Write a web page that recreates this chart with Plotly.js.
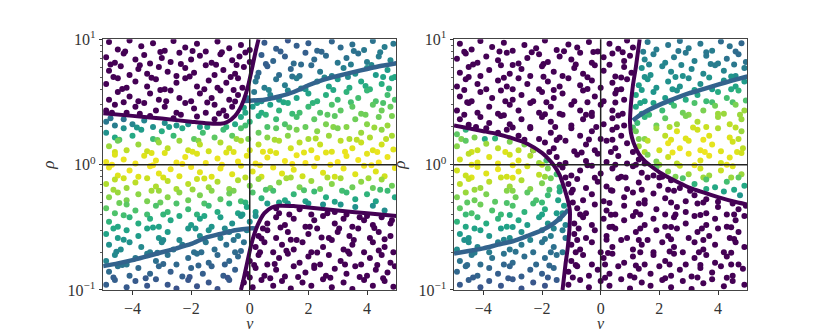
<!DOCTYPE html>
<html><head><meta charset="utf-8">
<script src="https://cdn.plot.ly/plotly-3.0.1.min.js"></script>
<style>html,body{margin:0;padding:0;background:#fff}#chart{width:830px;height:332px}</style>
</head><body><div id="chart"></div>
<script>
// ---- tick labels ----
const xTickVals = [-4, -2, 0, 2, 4];
const xTickText = ['\u22124', '\u22122', '0', '2', '4'];
const yTickVals = [0.1, 1, 10];
const yTickText = ['10<sup>\u22121</sup>', '10<sup>0</sup>', '10<sup>1</sup>'];
const yMinorVals = [0.2,0.3,0.4,0.5,0.6,0.7,0.8,0.9,2,3,4,5,6,7,8,9];

// ---- panel 1 curves ----
const p1PurpleUpperX = [-5, -4, -3, -2, -1.5, -1, -0.75, -0.5, -0.35, -0.2, -0.05, 0.1, 0.2, 0.3];
const p1PurpleUpperY = [2.57, 2.45, 2.33, 2.2, 2.14, 2.12, 2.2, 2.45, 2.75, 3.3, 4.3, 6.2, 8.0, 10];
const p1PurpleLowerX = [5, 4, 3, 2, 1.5, 1, 0.75, 0.5, 0.35, 0.2, 0.05, -0.1, -0.2, -0.3];
const p1PurpleLowerY = [0.39, 0.41, 0.43, 0.455, 0.467, 0.47, 0.455, 0.41, 0.36, 0.3, 0.23, 0.16, 0.125, 0.1];
const p1BlueUpperX = [-0.2, 0, 0.5, 1, 1.5, 2, 2.5, 3, 3.5, 4, 4.5, 5];
const p1BlueUpperY = [3.22, 3.24, 3.3, 3.5, 3.8, 4.3, 4.75, 5.1, 5.45, 5.8, 6.15, 6.45];
const p1BlueLowerX = [-5, -4.5, -4, -3.5, -3, -2.5, -2, -1.5, -1, -0.5, 0, 0.2];
const p1BlueLowerY = [0.155, 0.163, 0.173, 0.186, 0.2, 0.215, 0.233, 0.262, 0.28, 0.3, 0.31, 0.31];

// ---- panel 2 curves ----
const p2PurpleUpperX = [1.33, 1.2, 1.1, 1.03, 1.0, 1.03, 1.12, 1.3, 1.5, 1.7, 2.0, 2.5, 3.0, 3.5, 4.0, 4.5, 5.0];
const p2PurpleUpperY = [10, 6.0, 4.3, 3.0, 2.2, 1.8, 1.5, 1.22, 1.07, 0.98, 0.87, 0.75, 0.66, 0.6, 0.55, 0.51, 0.48];
const p2PurpleLowerX = [-5, -4.5, -4, -3.5, -3, -2.5, -2, -1.8, -1.6, -1.4, -1.25, -1.12, -1.05, -1.06, -1.12, -1.2, -1.3];
const p2PurpleLowerY = [2.05, 1.95, 1.85, 1.75, 1.62, 1.47, 1.24, 1.12, 0.99, 0.83, 0.66, 0.52, 0.43, 0.32, 0.22, 0.16, 0.1];
const p2BlueUpperX = [1.1, 1.3, 1.6, 2.0, 2.5, 3.0, 3.5, 4.0, 4.5, 5.0];
const p2BlueUpperY = [2.25, 2.45, 2.7, 3.0, 3.35, 3.7, 4.0, 4.35, 4.7, 5.05];
const p2BlueLowerX = [-5, -4.5, -4, -3.5, -3, -2.5, -2, -1.6, -1.3, -1.1];
const p2BlueLowerY = [0.195, 0.205, 0.215, 0.23, 0.245, 0.27, 0.3, 0.34, 0.39, 0.44];

// ---- panel 1 points: value 0 (purple) ----
const p1PurplePts = [
[-4.8,9.5],[-4.5,8.3],[-4.1,9.8],[-3.7,8.8],[-3.3,9.3],[-2.9,8.1],[-2.6,9.7],[-2.2,8.6],[-1.8,9.2],[-1.5,8.0],[-1.1,9.6],[-0.7,8.5],[-0.3,9.0],[0.0,8.2],
[-4.9,7.2],[-4.6,6.5],[-4.3,7.7],[-3.9,6.9],[-3.6,7.5],[-3.4,6.4],[-3.0,7.1],[-2.7,6.6],[-2.4,7.8],[-2.0,6.9],[-1.7,7.4],[-1.3,6.5],[-1.0,7.6],[-0.6,6.8],[-0.35,7.3],[0.0,6.6],
[-4.8,5.6],[-4.4,6.1],[-4.1,5.2],[-3.8,5.8],[-3.5,5.3],[-3.1,6.0],[-2.8,5.5],[-2.5,5.1],[-2.2,5.9],[-1.9,5.4],[-1.5,6.2],[-1.2,5.2],[-0.9,5.7],[-0.5,5.3],[-0.2,6.0],
[-4.9,4.4],[-4.5,4.9],[-4.2,4.1],[-3.9,4.6],[-3.5,4.2],[-3.2,4.8],[-2.9,4.0],[-2.5,4.5],[-2.2,4.9],[-1.8,4.2],[-1.4,4.7],[-1.1,4.1],[-0.8,4.5],[-0.4,4.9],[-0.25,4.1],
[-4.8,3.3],[-4.5,3.8],[-4.1,3.5],[-3.8,3.2],[-3.4,3.7],[-3.1,3.3],[-2.7,3.9],[-2.4,3.4],[-2.0,3.2],[-1.7,3.7],[-1.3,3.4],[-1.0,3.9],[-0.7,3.3],[-0.4,3.6],
[-4.9,2.7],[-4.6,3.0],[-4.2,2.6],[-3.9,2.9],[-3.6,3.1],[-3.2,2.7],[-2.9,2.9],[-2.5,2.6],[-2.2,3.1],[-1.9,2.8],[-1.5,2.6],[-1.2,3.0],[-0.9,2.7],[-0.6,2.9],
[-4.7,2.6],[-3.4,2.45],[-2.6,2.35],[-1.8,2.42],[-1.2,2.3],[-0.8,2.45],
[-4.25,8.0],[-3.05,7.92],[-1.95,8.07],[-0.95,7.88],[-0.15,7.85],
[-4.75,6.3],[-3.75,6.22],[-2.35,6.36],[-1.15,6.28],[-0.45,6.24],
[-4.65,5.0],[-3.35,4.93],[-2.05,5.06],[-0.65,5.0],
[-4.35,4.02],[-3.05,3.95],[-1.55,4.0],[-0.55,3.94],
[-4.3,3.15],[-2.85,3.21],[-1.45,3.13],[-0.5,3.19],
[-3.75,2.55],[-2.35,2.5],[-1.05,2.56],
[0.9,0.45],[1.0,0.41],[1.7,0.44],[2.1,0.4],[2.9,0.42],[3.3,0.4],[4.0,0.39],
[1.35,0.4],[2.65,0.41],[3.75,0.38],[4.85,0.36],
[0.6,0.34],[0.9,0.38],[1.2,0.33],[1.5,0.37],[1.9,0.32],[2.2,0.36],[2.5,0.39],[2.9,0.34],[3.2,0.37],[3.5,0.32],[3.9,0.36],[4.2,0.33],[4.5,0.38],[4.8,0.34],
[0.45,0.31],[1.05,0.315],[2.05,0.32],[3.05,0.31],[4.25,0.312],
[0.3,0.27],[0.6,0.3],[0.9,0.26],[1.3,0.29],[1.6,0.25],[2.0,0.28],[2.3,0.31],[2.7,0.26],[3.0,0.29],[3.4,0.27],[3.7,0.31],[4.1,0.26],[4.4,0.29],[4.8,0.27],
[0.4,0.258],[1.4,0.252],[2.45,0.262],[3.55,0.25],[4.6,0.254],
[0.2,0.22],[0.5,0.24],[0.8,0.2],[1.1,0.23],[1.5,0.21],[1.8,0.24],[2.1,0.2],[2.5,0.22],[2.8,0.25],[3.2,0.21],[3.5,0.23],[3.9,0.2],[4.2,0.24],[4.6,0.22],[4.9,0.2],
[0.35,0.2],[1.25,0.206],[2.3,0.199],[3.35,0.203],[4.4,0.207],
[0.0,0.17],[0.3,0.19],[0.6,0.16],[1.0,0.18],[1.3,0.195],[1.7,0.165],[2.0,0.185],[2.4,0.16],[2.7,0.19],[3.1,0.17],[3.4,0.195],[3.8,0.16],[4.1,0.18],[4.5,0.19],[4.8,0.165],
[0.15,0.158],[0.85,0.161],[2.2,0.157],[3.25,0.16],[4.35,0.158],
[-0.1,0.135],[0.2,0.15],[0.5,0.13],[0.9,0.145],[1.2,0.128],[1.5,0.155],[1.9,0.138],[2.2,0.15],[2.6,0.13],[2.9,0.148],[3.3,0.135],[3.6,0.155],[4.0,0.13],[4.3,0.145],[4.7,0.138],[4.95,0.155],
[0.0,0.126],[0.7,0.124],[1.65,0.127],[2.75,0.125],[3.75,0.127],[4.55,0.124],
[-0.2,0.115],[0.1,0.105],[0.4,0.12],[0.8,0.108],[1.1,0.118],[1.4,0.103],[1.8,0.115],[2.1,0.108],[2.5,0.122],[2.8,0.105],[3.2,0.115],[3.5,0.102],[3.9,0.12],[4.2,0.108],[4.6,0.118],[4.9,0.106]
];

// ---- panel 1 points with colour value [x, y, value] ----
const p1ColoredPts = [
[0.5,9.4,0.28],[0.9,8.4,0.3],[1.3,9.8,0.27],[1.6,8.9,0.3],[2.0,9.3,0.3],[2.3,8.1,0.33],[2.8,9.6,0.32],[3.1,8.6,0.35],[3.5,9.1,0.37],[3.9,8.2,0.4],[4.2,9.7,0.38],[4.6,8.7,0.42],[4.9,9.2,0.4],
[1.05,8.0,0.3],[2.45,7.95,0.33],[3.55,8.05,0.38],[4.45,7.9,0.42],
[0.4,7.5,0.3],[0.8,6.7,0.32],[1.2,7.3,0.3],[1.5,6.4,0.35],[1.9,7.8,0.3],[2.2,6.9,0.35],[2.6,7.4,0.35],[3.0,6.5,0.4],[3.3,7.1,0.38],[3.7,7.7,0.37],[4.0,6.6,0.42],[4.4,7.3,0.42],[4.8,6.8,0.47],
[0.55,6.35,0.3],[1.75,6.3,0.35],[3.45,6.3,0.42],[4.15,6.25,0.47],
[0.3,5.4,0.33],[0.6,6.1,0.3],[1.0,5.2,0.35],[1.4,5.8,0.33],[1.7,5.1,0.38],[2.1,6.2,0.35],[2.4,5.5,0.4],[2.8,5.1,0.43],[3.2,5.9,0.43],[3.6,5.3,0.5],[4.0,5.9,0.5],[4.3,5.2,0.55],[4.7,5.7,0.55],[4.95,5.0,0.6],
[0.25,5.0,0.35],[1.45,5.05,0.38],[2.55,4.95,0.45],[3.35,5.0,0.47],[4.55,5.0,0.58],
[0.2,4.6,0.4],[0.5,4.1,0.42],[0.9,4.8,0.38],[1.2,4.3,0.42],[1.6,4.9,0.42],[1.9,4.0,0.52],[2.3,4.6,0.5],[2.7,4.2,0.58],[3.0,4.8,0.55],[3.4,4.1,0.62],[3.8,4.6,0.6],[4.1,4.0,0.65],[4.5,4.4,0.63],[4.85,4.9,0.6],
[0.65,3.95,0.45],[1.75,4.05,0.5],[2.85,3.95,0.6],[3.95,4.25,0.62],[4.75,4.05,0.65],
[-0.1,3.4,0.42],[0.15,3.8,0.4],[0.4,3.2,0.5],[0.7,3.6,0.45],[1.0,3.3,0.52],[1.3,3.9,0.45],[1.6,3.4,0.58],[2.0,3.7,0.58],[2.3,3.2,0.65],[2.6,3.6,0.63],[3.0,3.3,0.68],[3.3,3.8,0.65],[3.7,3.4,0.7],[4.0,3.9,0.67],[4.3,3.2,0.72],[4.7,3.6,0.7],[4.95,3.3,0.72],
[0.25,3.1,0.55],[1.15,3.15,0.6],[2.15,3.1,0.65],[3.45,3.15,0.7],[4.55,3.1,0.72],
[-0.15,2.6,0.6],[0.1,2.9,0.55],[0.4,2.6,0.62],[0.7,3.0,0.58],[1.0,2.7,0.65],[1.3,3.1,0.62],[1.7,2.6,0.7],[2.0,2.9,0.68],[2.4,2.6,0.73],[2.8,3.0,0.72],[3.1,2.7,0.75],[3.5,2.9,0.75],[3.8,2.55,0.78],[4.2,3.0,0.75],[4.5,2.7,0.78],[4.8,2.9,0.77],
[-0.2,2.85,0.58],[0.55,2.5,0.65],[1.45,2.55,0.68],[2.65,2.5,0.75],[3.95,2.5,0.78],[4.85,2.45,0.8],
[-4.9,2.2,0.4],[-4.6,2.05,0.42],[-4.3,2.3,0.38],[-4.0,2.1,0.45],[-3.6,2.25,0.45],[-3.3,2.0,0.5],[-2.9,2.15,0.48],[-2.5,2.05,0.52],[-2.1,2.1,0.5],[-1.7,2.0,0.55],[-0.5,2.1,0.6],[-0.3,2.4,0.6],[0.0,2.2,0.65],[0.3,2.45,0.62],[0.6,2.0,0.72],[0.9,2.3,0.68],[1.2,2.1,0.72],[1.6,2.4,0.7],[1.9,2.0,0.77],[2.2,2.3,0.75],[2.6,2.1,0.8],[2.9,2.45,0.75],[3.3,2.0,0.82],[3.6,2.3,0.78],[4.0,2.1,0.82],[4.4,2.4,0.78],[4.7,2.05,0.85],
[-4.75,2.35,0.38],[-3.85,1.98,0.52],[-2.75,2.0,0.55],[-1.45,2.0,0.6],[-0.8,2.0,0.65],[-0.15,2.05,0.7],[1.35,1.98,0.77],[2.85,2.0,0.82],[4.25,1.98,0.85],
[-4.9,1.8,0.5],[-4.6,1.65,0.6],[-4.3,1.95,0.5],[-4.0,1.7,0.6],[-3.7,1.9,0.55],[-3.3,1.6,0.68],[-3.0,1.85,0.62],[-2.6,1.7,0.68],[-2.3,1.95,0.6],[-1.9,1.6,0.75],[-1.6,1.8,0.7],[-1.2,1.65,0.75],[-0.9,1.9,0.68],[-0.6,1.7,0.75],[-0.3,1.95,0.72],[-0.05,1.6,0.8],[0.3,1.8,0.77],[0.6,1.65,0.82],[0.9,1.95,0.75],[1.3,1.7,0.82],[1.6,1.9,0.8],[2.0,1.6,0.87],[2.3,1.85,0.82],[2.7,1.7,0.85],[3.0,1.95,0.8],[3.4,1.6,0.88],[3.8,1.8,0.85],[4.1,1.65,0.88],[4.5,1.9,0.83],[4.85,1.7,0.87],
[-4.45,1.58,0.72],[-3.15,1.57,0.78],[-1.75,1.55,0.82],[-0.45,1.6,0.85],[0.85,1.58,0.87],[2.25,1.62,0.88],[3.65,1.58,0.9],[4.65,1.6,0.9],
[-4.8,1.4,0.85],[-4.5,1.55,0.78],[-4.2,1.3,0.9],[-3.8,1.45,0.85],[-3.5,1.28,0.92],[-3.1,1.5,0.85],[-2.8,1.35,0.9],[-2.4,1.55,0.85],[-2.1,1.3,0.92],[-1.7,1.45,0.9],[-1.4,1.28,0.93],[-1.0,1.5,0.88],[-0.7,1.35,0.92],[-0.3,1.55,0.88],[0.0,1.3,0.93],[0.3,1.45,0.9],[0.7,1.28,0.95],[1.0,1.55,0.88],[1.4,1.35,0.93],[1.7,1.5,0.9],[2.1,1.3,0.95],[2.4,1.45,0.92],[2.8,1.27,0.95],[3.1,1.55,0.9],[3.5,1.35,0.95],[3.8,1.5,0.92],[4.2,1.3,0.95],[4.5,1.45,0.93],[4.9,1.32,0.95],
[-4.6,1.26,0.93],[-3.35,1.24,0.95],[-1.95,1.27,0.95],[-0.55,1.26,0.95],[0.45,1.27,0.96],[1.85,1.25,0.96],[3.25,1.27,0.97],[4.35,1.26,0.97],
[-4.9,1.05,0.97],[-4.6,1.2,0.95],[-4.3,1.1,0.97],[-3.9,1.02,0.98],[-3.6,1.18,0.95],[-3.2,1.08,0.97],[-2.9,1.24,0.95],[-2.5,1.04,0.98],[-2.2,1.15,0.97],[-1.8,1.22,0.95],[-1.5,1.03,0.98],[-1.1,1.12,0.97],[-0.8,1.25,0.95],[-0.4,1.06,0.98],[-0.1,1.18,0.96],[0.2,1.02,0.98],[0.6,1.14,0.97],[0.9,1.24,0.95],[1.2,1.07,0.98],[1.6,1.19,0.97],[1.9,1.03,0.99],[2.3,1.13,0.98],[2.6,1.25,0.96],[3.0,1.05,0.99],[3.3,1.17,0.97],[3.7,1.09,0.98],[4.0,1.22,0.96],[4.4,1.04,0.99],[4.7,1.15,0.97],
[-4.7,1.0,0.99],[-3.3,0.99,0.99],[-2.3,1.01,0.99],[-0.95,1.0,0.99],[0.35,0.99,0.98],[1.45,1.01,0.99],[2.75,1.0,0.99],[4.15,0.99,0.99],
[-4.8,0.95,0.97],[-4.5,0.82,0.95],[-4.1,0.9,0.97],[-3.8,0.8,0.95],[-3.4,0.97,0.98],[-3.1,0.85,0.96],[-2.7,0.92,0.97],[-2.4,0.81,0.95],[-2.0,0.96,0.98],[-1.7,0.87,0.96],[-1.3,0.8,0.95],[-1.0,0.93,0.97],[-0.6,0.84,0.95],[-0.3,0.98,0.97],[0.1,0.88,0.95],[0.4,0.8,0.93],[0.8,0.95,0.97],[1.1,0.85,0.95],[1.5,0.91,0.96],[1.8,0.81,0.93],[2.2,0.97,0.98],[2.5,0.86,0.95],[2.9,0.8,0.93],[3.2,0.93,0.97],[3.6,0.84,0.95],[3.9,0.98,0.98],[4.3,0.88,0.95],[4.6,0.81,0.93],[4.95,0.94,0.97],
[-4.3,0.78,0.93],[-2.95,0.79,0.94],[-1.55,0.775,0.93],[-0.15,0.79,0.9],[1.25,0.78,0.87],[2.65,0.79,0.88],[4.05,0.78,0.86],
[-4.9,0.7,0.88],[-4.6,0.76,0.9],[-4.2,0.65,0.85],[-3.9,0.72,0.9],[-3.5,0.78,0.92],[-3.2,0.67,0.88],[-2.8,0.74,0.9],[-2.5,0.64,0.87],[-2.1,0.7,0.9],[-1.8,0.77,0.92],[-1.4,0.66,0.85],[-1.1,0.73,0.88],[-0.7,0.64,0.83],[-0.4,0.75,0.88],[0.0,0.68,0.8],[0.3,0.77,0.85],[0.7,0.65,0.78],[1.0,0.72,0.82],[1.4,0.79,0.87],[1.7,0.66,0.8],[2.1,0.74,0.85],[2.4,0.64,0.78],[2.8,0.7,0.82],[3.1,0.78,0.87],[3.5,0.66,0.78],[3.8,0.73,0.83],[4.2,0.65,0.77],[4.5,0.76,0.85],[4.85,0.68,0.78],
[-4.65,0.63,0.86],[-3.35,0.62,0.86],[-1.95,0.635,0.85],[-0.55,0.62,0.8],[0.55,0.63,0.72],[1.85,0.625,0.72],[3.15,0.62,0.7],[4.45,0.63,0.7],
[-4.8,0.55,0.82],[-4.5,0.6,0.85],[-4.2,0.52,0.8],[-3.8,0.58,0.83],[-3.5,0.51,0.8],[-3.1,0.62,0.85],[-2.8,0.55,0.82],[-2.4,0.6,0.83],[-2.1,0.52,0.78],[-1.7,0.57,0.8],[-1.3,0.62,0.82],[-1.0,0.53,0.75],[-0.7,0.59,0.78],[-0.3,0.51,0.7],[0.1,0.6,0.72],[0.4,0.54,0.65],[0.8,0.62,0.7],[1.2,0.52,0.6],[1.5,0.58,0.66],[1.9,0.51,0.58],[2.2,0.61,0.68],[2.6,0.55,0.62],[2.9,0.505,0.58],[3.3,0.6,0.68],[3.6,0.53,0.6],[4.0,0.58,0.65],[4.3,0.51,0.58],[4.7,0.62,0.68],[4.95,0.55,0.6],
[-4.45,0.495,0.78],[-3.05,0.5,0.77],[-1.55,0.49,0.72],[-0.15,0.5,0.65],[1.0,0.5,0.56],[2.0,0.49,0.53],[3.1,0.48,0.52],[4.2,0.47,0.5],
[-4.9,0.45,0.75],[-4.6,0.41,0.72],[-4.2,0.48,0.75],[-3.9,0.43,0.72],[-3.5,0.4,0.7],[-3.2,0.47,0.72],[-2.8,0.42,0.68],[-2.5,0.49,0.72],[-2.1,0.44,0.68],[-1.8,0.4,0.65],[-1.4,0.47,0.68],[-1.1,0.42,0.62],[-0.7,0.49,0.65],[-0.4,0.41,0.58],[-0.1,0.46,0.6],[0.2,0.42,0.55],[0.6,0.49,0.55],[1.3,0.49,0.52],[2.5,0.48,0.5],[3.6,0.46,0.5],[4.6,0.43,0.48],
[-4.3,0.395,0.7],[-2.95,0.4,0.66],[-1.55,0.39,0.6],[-0.25,0.4,0.55],
[-4.8,0.35,0.65],[-4.5,0.32,0.6],[-4.1,0.38,0.65],[-3.8,0.34,0.62],[-3.4,0.37,0.63],[-3.1,0.32,0.58],[-2.7,0.36,0.6],[-2.4,0.39,0.62],[-2.0,0.33,0.55],[-1.7,0.37,0.58],[-1.3,0.32,0.52],[-1.0,0.38,0.56],[-0.6,0.34,0.5],[-0.3,0.39,0.52],[0.0,0.35,0.48],[0.2,0.39,0.5],
[-4.65,0.31,0.6],[-3.3,0.315,0.57],[-1.85,0.31,0.52],[-0.85,0.31,0.47],
[-4.9,0.28,0.58],[-4.5,0.26,0.55],[-4.2,0.3,0.58],[-3.8,0.27,0.55],[-3.5,0.31,0.58],[-3.1,0.26,0.52],[-2.8,0.29,0.55],[-2.4,0.25,0.48],[-2.1,0.31,0.53],[-1.7,0.27,0.48],[-1.4,0.3,0.5],[-1.0,0.26,0.42],[-0.7,0.29,0.45],[-0.4,0.27,0.42],[-0.1,0.3,0.45],
[-4.3,0.252,0.52],[-2.95,0.25,0.48],[-1.55,0.255,0.42],[-0.55,0.25,0.38],
[-4.8,0.23,0.5],[-4.4,0.21,0.48],[-4.1,0.24,0.5],[-3.7,0.22,0.47],[-3.4,0.2,0.42],[-3.0,0.24,0.47],[-2.6,0.21,0.4],[-2.3,0.23,0.42],[-1.9,0.2,0.37],[-1.5,0.24,0.4],[-1.2,0.21,0.36],[-0.8,0.23,0.37],[-0.5,0.2,0.35],[-0.2,0.24,0.38],
[-4.55,0.202,0.45],[-3.15,0.198,0.4],[-1.65,0.2,0.36],[-0.3,0.205,0.33],
[-4.9,0.17,0.45],[-4.6,0.19,0.47],[-4.2,0.16,0.4],[-3.9,0.18,0.4],[-3.5,0.195,0.42],[-3.2,0.17,0.37],[-2.8,0.19,0.38],[-2.5,0.16,0.34],[-2.1,0.18,0.35],[-1.8,0.195,0.37],[-1.4,0.165,0.33],[-1.1,0.19,0.34],[-0.7,0.17,0.33],[-0.4,0.185,0.34],
[-4.35,0.158,0.38],[-2.95,0.161,0.33],[-1.75,0.157,0.32],[-0.85,0.16,0.31],
[-4.8,0.14,0.35],[-4.5,0.155,0.38],[-4.1,0.13,0.32],[-3.8,0.15,0.34],[-3.4,0.135,0.32],[-3.1,0.155,0.33],[-2.7,0.14,0.3],[-2.3,0.128,0.3],[-2.0,0.15,0.32],[-1.6,0.135,0.3],[-1.3,0.155,0.31],[-0.9,0.13,0.29],[-0.5,0.145,0.3],
[-4.65,0.126,0.3],[-3.55,0.124,0.28],[-2.05,0.127,0.27],[-0.75,0.125,0.26],
[-4.9,0.11,0.3],[-4.6,0.12,0.3],[-4.2,0.105,0.28],[-3.9,0.118,0.28],[-3.5,0.108,0.27],[-3.2,0.122,0.28],[-2.8,0.11,0.27],[-2.5,0.103,0.25],[-2.1,0.12,0.27],[-1.8,0.107,0.26],[-1.4,0.115,0.27],[-1.1,0.102,0.25],[-0.7,0.12,0.28]
];

// ---- panel 2 points: value 0 (purple) ----
const p2PurplePts = [
[-4.8,9.2],[-4.4,8.3],[-4.1,9.7],[-3.7,8.7],[-3.3,9.4],[-3.0,8.1],[-2.6,9.0],[-2.2,8.5],[-1.9,9.8],[-1.5,8.2],[-1.1,9.1],[-0.8,8.6],[-0.4,9.5],[-0.1,8.0],[0.3,9.2],[0.6,8.4],[0.9,9.8],[1.1,8.6],
[-4.65,7.95],[-3.45,8.0],[-2.35,7.88],[-1.25,8.02],[-0.25,7.93],[0.75,7.9],
[-4.9,7.0],[-4.6,7.7],[-4.2,6.5],[-3.9,7.3],[-3.5,6.8],[-3.2,7.8],[-2.8,6.4],[-2.5,7.1],[-2.1,7.6],[-1.8,6.6],[-1.4,7.3],[-1.0,6.9],[-0.7,7.8],[-0.3,6.5],[0.1,7.2],[0.4,7.7],[0.8,6.7],[1.0,7.4],
[-4.35,6.3],[-3.0,6.24],[-1.95,6.36],[-0.85,6.3],[0.3,6.27],
[-4.8,5.4],[-4.5,6.0],[-4.1,5.1],[-3.8,5.7],[-3.4,6.2],[-3.1,5.3],[-2.7,5.8],[-2.4,5.1],[-2.0,6.1],[-1.6,5.5],[-1.3,5.1],[-0.9,5.9],[-0.6,5.3],[-0.2,6.2],[0.1,5.6],[0.5,5.05],[0.8,6.0],[1.05,5.4],
[-4.5,5.0],[-3.3,4.93],[-1.95,5.02],[-0.45,4.98],[0.7,4.95],
[-4.9,4.2],[-4.6,4.8],[-4.2,4.4],[-3.9,4.0],[-3.5,4.7],[-3.2,4.2],[-2.8,4.9],[-2.5,4.4],[-2.1,4.0],[-1.8,4.6],[-1.4,4.2],[-1.1,4.9],[-0.7,4.3],[-0.3,4.7],[0.0,4.1],[0.4,4.5],[0.7,4.0],[0.9,4.8],
[-4.65,3.95],[-3.0,4.0],[-1.6,3.95],[-0.45,4.02],[0.55,3.95],
[-4.8,3.5],[-4.4,3.2],[-4.1,3.8],[-3.7,3.4],[-3.4,3.9],[-3.0,3.3],[-2.7,3.6],[-2.3,3.2],[-2.0,3.8],[-1.6,3.4],[-1.3,3.7],[-0.9,3.2],[-0.6,3.9],[-0.2,3.5],[0.1,3.2],[0.5,3.7],[0.8,3.3],
[-4.55,3.15],[-3.25,3.2],[-1.85,3.14],[-0.45,3.15],[0.5,3.13],
[-4.9,2.7],[-4.5,3.1],[-4.2,2.6],[-3.8,2.9],[-3.5,2.55],[-3.1,3.0],[-2.8,2.7],[-2.4,3.1],[-2.1,2.6],[-1.7,2.9],[-1.4,2.55],[-1.0,3.0],[-0.7,2.7],[-0.3,2.6],[0.0,3.0],[0.4,2.7],[0.75,2.55],
[-4.65,2.5],[-3.3,2.48],[-1.9,2.52],[-0.5,2.5],[0.6,2.47],
[-4.8,2.3],[-4.5,2.08],[-4.1,2.4],[-3.8,2.15],[-3.4,2.45],[-3.1,2.1],[-2.7,2.3],[-2.4,2.0],[-2.0,2.4],[-1.7,2.2],[-1.3,2.5],[-1.0,2.05],[-0.6,2.3],[-0.3,2.45],[0.1,2.1],[0.4,2.35],[0.8,2.05],
[-4.25,2.0],[-3.0,1.98],[-1.55,2.0],[-0.15,2.0],[0.55,1.99],
[-3.9,1.95],[-3.5,1.8],[-3.2,1.9],[-2.8,1.7],[-2.4,1.95],[-2.1,1.6],[-1.7,1.8],[-1.4,1.65],[-1.0,1.95],[-0.7,1.7],[-0.3,1.85],[0.0,1.6],[0.4,1.9],[0.7,1.7],
[-2.6,1.58],[-1.5,1.57],[-0.4,1.59],[0.4,1.58],
[-2.3,1.3],[-1.9,1.5],[-1.6,1.35],[-1.2,1.55],[-0.9,1.28],[-0.5,1.45],[-0.2,1.3],[0.2,1.55],[0.5,1.35],[0.9,1.48],
[-1.75,1.26],[-0.65,1.25],[0.35,1.26],[1.1,1.26],
[-1.5,1.15],[-1.2,1.03],[-0.8,1.2],[-0.5,1.07],[-0.1,1.22],[0.2,1.05],[0.6,1.17],[0.9,1.02],[1.3,1.1],[1.5,1.02],
[-1.4,1.0],[-0.45,0.99],[0.5,1.0],[1.2,1.0],
[-1.3,0.95],[-1.0,0.82],[-0.7,0.9],[-0.3,0.98],[0.0,0.85],[0.4,0.93],[0.7,0.8],[1.1,0.97],[1.4,0.86],[1.8,0.82],[2.1,0.8],
[-1.2,0.79],[-0.2,0.785],[0.85,0.79],[2.0,0.79],
[-1.1,0.7],[-0.8,0.77],[-0.5,0.65],[-0.1,0.73],[0.2,0.67],[0.6,0.78],[0.9,0.64],[1.3,0.72],[1.6,0.79],[2.0,0.68],[2.4,0.75],[2.7,0.65],
[-0.95,0.63],[0.35,0.625],[1.4,0.63],[2.3,0.63],[3.05,0.62],
[-1.0,0.6],[-0.6,0.52],[-0.3,0.58],[0.1,0.51],[0.4,0.62],[0.8,0.55],[1.1,0.6],[1.5,0.52],[1.8,0.59],[2.2,0.54],[2.5,0.62],[2.9,0.51],[3.2,0.57],[3.6,0.53],[4.0,0.505],
[-0.95,0.5],[0.3,0.495],[1.3,0.49],[2.4,0.5],[3.5,0.5],[4.5,0.49],
[-0.8,0.45],[-0.5,0.41],[-0.2,0.48],[0.2,0.43],[0.5,0.4],[0.8,0.47],[1.2,0.42],[1.5,0.49],[1.9,0.44],[2.2,0.4],[2.6,0.46],[2.9,0.42],[3.3,0.49],[3.6,0.41],[4.0,0.46],[4.3,0.4],[4.7,0.44],[4.95,0.47],
[-0.7,0.4],[0.35,0.398],[1.35,0.4],[2.55,0.4],[3.4,0.397],[4.55,0.4],
[-0.9,0.34],[-0.6,0.38],[-0.3,0.33],[0.1,0.37],[0.4,0.32],[0.8,0.36],[1.1,0.39],[1.5,0.33],[1.8,0.37],[2.2,0.32],[2.5,0.38],[2.9,0.34],[3.2,0.39],[3.6,0.33],[3.9,0.37],[4.3,0.32],[4.6,0.36],[4.9,0.39],
[-0.75,0.31],[0.3,0.318],[1.35,0.31],[2.4,0.318],[3.45,0.31],[4.45,0.316],
[-0.9,0.28],[-0.5,0.26],[-0.2,0.3],[0.2,0.27],[0.5,0.31],[0.9,0.26],[1.2,0.29],[1.6,0.25],[1.9,0.3],[2.3,0.27],[2.6,0.31],[3.0,0.26],[3.3,0.29],[3.7,0.27],[4.0,0.31],[4.4,0.26],[4.7,0.29],
[-0.8,0.25],[0.2,0.252],[1.3,0.25],[2.4,0.254],[3.5,0.25],[4.55,0.255],
[-1.0,0.23],[-0.7,0.21],[-0.3,0.24],[0.0,0.2],[0.4,0.22],[0.7,0.25],[1.1,0.21],[1.4,0.23],[1.8,0.2],[2.1,0.24],[2.5,0.22],[2.8,0.2],[3.2,0.24],[3.5,0.21],[3.9,0.23],[4.2,0.2],[4.6,0.24],[4.9,0.22],
[-0.85,0.2],[0.25,0.197],[1.35,0.2],[2.35,0.203],[3.35,0.2],[4.45,0.198],
[-1.0,0.17],[-0.6,0.19],[-0.3,0.16],[0.1,0.18],[0.4,0.195],[0.8,0.165],[1.1,0.185],[1.5,0.16],[1.8,0.19],[2.2,0.17],[2.5,0.195],[2.9,0.16],[3.2,0.18],[3.6,0.19],[3.9,0.165],[4.3,0.185],[4.7,0.16],
[-0.85,0.158],[0.15,0.16],[1.2,0.157],[2.35,0.16],[3.4,0.158],[4.45,0.16],
[-1.1,0.14],[-0.8,0.155],[-0.4,0.13],[-0.1,0.145],[0.3,0.135],[0.6,0.155],[1.0,0.13],[1.3,0.148],[1.7,0.135],[2.0,0.155],[2.4,0.13],[2.7,0.145],[3.1,0.128],[3.4,0.15],[3.8,0.138],[4.1,0.155],[4.5,0.13],[4.85,0.148],
[-0.95,0.126],[0.15,0.125],[1.15,0.126],[2.2,0.124],[3.3,0.126],[4.3,0.125],
[-1.1,0.11],[-0.7,0.12],[-0.4,0.105],[0.0,0.118],[0.3,0.108],[0.7,0.122],[1.0,0.103],[1.4,0.115],[1.7,0.108],[2.1,0.12],[2.4,0.105],[2.8,0.118],[3.1,0.102],[3.5,0.113],[3.8,0.122],[4.2,0.107],[4.5,0.118],[4.9,0.11]
];

// ---- panel 2 points with colour value [x, y, value] ----
const p2ColoredPts = [
[1.6,9.5,0.4],[1.9,8.3,0.42],[2.3,9.0,0.4],[2.7,9.7,0.38],[3.0,8.5,0.42],[3.4,9.2,0.4],[3.8,8.1,0.42],[4.1,9.6,0.35],[4.4,8.8,0.38],[4.8,9.3,0.33],
[1.45,7.95,0.42],[2.65,8.05,0.4],[3.6,7.9,0.4],[4.6,8.0,0.35],
[1.5,6.9,0.45],[1.8,7.6,0.42],[2.2,6.5,0.45],[2.5,7.2,0.42],[2.9,7.8,0.4],[3.2,6.7,0.43],[3.6,7.4,0.4],[4.0,6.4,0.42],[4.3,7.0,0.38],[4.7,7.6,0.35],[4.95,6.6,0.38],
[1.65,6.3,0.45],[2.75,6.25,0.45],[3.75,6.35,0.42],[4.55,6.3,0.4],
[1.4,5.9,0.5],[1.7,5.2,0.5],[2.1,6.1,0.45],[2.4,5.5,0.47],[2.8,5.1,0.5],[3.1,5.8,0.45],[3.5,5.3,0.47],[3.9,6.2,0.42],[4.2,5.6,0.45],[4.6,5.1,0.48],[4.9,5.9,0.42],
[1.5,5.0,0.5],[2.55,5.0,0.5],[3.7,4.95,0.52],[4.45,5.05,0.52],
[1.3,4.3,0.55],[1.6,4.8,0.52],[1.9,4.1,0.52],[2.3,4.6,0.5],[2.7,4.2,0.5],[3.0,4.9,0.48],[3.4,4.4,0.5],[3.8,4.0,0.55],[4.2,4.7,0.5],[4.6,4.2,0.58],[4.9,4.6,0.55],
[1.4,3.95,0.55],[2.45,4.0,0.52],[3.2,3.95,0.55],[4.45,4.0,0.6],
[1.2,3.6,0.6],[1.5,3.2,0.58],[1.8,3.8,0.52],[2.2,3.4,0.55],[2.6,3.9,0.5],[2.9,3.3,0.62],[3.3,3.6,0.6],[3.6,3.2,0.68],[4.0,3.8,0.62],[4.3,3.4,0.7],[4.7,3.9,0.65],[4.95,3.25,0.72],
[1.35,3.1,0.58],[2.4,3.15,0.62],[3.8,3.15,0.7],[4.5,3.15,0.72],
[1.2,2.9,0.6],[1.4,2.55,0.62],[1.8,3.1,0.58],[2.1,2.7,0.68],[2.5,2.95,0.7],[2.8,2.6,0.78],[3.2,3.1,0.72],[3.5,2.7,0.8],[3.9,2.95,0.78],[4.2,2.55,0.85],[4.6,3.0,0.8],[4.9,2.7,0.85],
[1.65,2.5,0.68],[3.0,2.5,0.82],[4.0,2.55,0.85],[4.75,2.5,0.85],
[1.25,2.15,0.68],[1.5,2.4,0.65],[1.9,2.05,0.78],[2.2,2.35,0.75],[2.6,2.1,0.85],[2.9,2.45,0.8],[3.3,2.2,0.88],[3.6,2.0,0.92],[4.0,2.4,0.85],[4.4,2.1,0.9],[4.8,2.3,0.85],
[1.1,1.98,0.72],[2.35,2.0,0.88],[3.15,1.98,0.93],[4.6,1.98,0.9],
[-4.9,1.75,0.75],[-4.6,1.9,0.65],[-4.3,1.65,0.8],[-3.95,1.6,0.6],[1.2,1.85,0.78],[1.5,1.6,0.82],[1.9,1.95,0.85],[2.2,1.7,0.9],[2.6,1.85,0.95],[2.9,1.62,0.95],[3.3,1.9,0.93],[3.7,1.7,0.95],[4.0,1.95,0.88],[4.4,1.65,0.95],[4.8,1.85,0.85],
[-4.75,1.6,0.8],[-3.6,1.62,0.65],[1.3,1.6,0.8],[2.4,1.58,0.95],[3.5,1.58,0.97],[4.7,1.6,0.9],
[-4.9,1.4,0.82],[-4.6,1.55,0.75],[-4.2,1.3,0.92],[-3.9,1.47,0.85],[-3.5,1.35,0.9],[-3.1,1.52,0.8],[-2.8,1.3,0.9],[-2.6,1.45,0.8],[1.3,1.4,0.85],[1.6,1.55,0.9],[2.0,1.3,0.93],[2.3,1.48,0.97],[2.7,1.35,0.97],[3.0,1.55,0.95],[3.4,1.3,0.97],[3.8,1.45,0.96],[4.1,1.28,0.95],[4.5,1.52,0.93],[4.85,1.35,0.9],
[-4.4,1.26,0.93],[-3.25,1.26,0.95],[-2.3,1.3,0.85],[1.5,1.26,0.88],[2.45,1.25,0.97],[3.55,1.26,0.98],[4.65,1.26,0.95],
[-4.8,1.1,0.93],[-4.5,1.22,0.9],[-4.2,1.04,0.95],[-3.8,1.15,0.95],[-3.5,1.02,0.97],[-3.1,1.2,0.93],[-2.8,1.08,0.95],[-2.4,1.18,0.88],[-2.1,1.03,0.85],[-1.85,1.08,0.7],[1.6,1.2,0.8],[1.9,1.06,0.8],[2.3,1.15,0.92],[2.6,1.02,0.9],[3.0,1.22,0.97],[3.4,1.08,0.95],[3.7,1.18,0.97],[4.1,1.03,0.93],[4.4,1.14,0.96],[4.8,1.24,0.93],
[-4.4,1.0,0.96],[-3.0,0.99,0.97],[-2.0,1.0,0.9],[2.0,1.0,0.85],[3.2,0.99,0.97],[4.3,1.0,0.97],
[-4.9,0.9,0.93],[-4.6,0.82,0.92],[-4.2,0.96,0.95],[-3.9,0.85,0.95],[-3.5,0.92,0.97],[-3.2,0.8,0.93],[-2.8,0.88,0.95],[-2.5,0.97,0.93],[-2.1,0.83,0.9],[-1.8,0.93,0.8],[-1.5,0.84,0.7],[1.9,0.95,0.75],[2.3,0.88,0.82],[2.7,0.98,0.92],[3.0,0.84,0.85],[3.4,0.93,0.93],[3.7,0.82,0.85],[4.1,0.9,0.92],[4.5,0.97,0.95],[4.8,0.84,0.85],
[-4.4,0.79,0.95],[-3.0,0.785,0.95],[-1.9,0.8,0.85],[2.55,0.8,0.8],[3.5,0.79,0.85],[4.45,0.79,0.85],
[-4.8,0.7,0.9],[-4.5,0.77,0.92],[-4.1,0.65,0.85],[-3.8,0.73,0.9],[-3.4,0.79,0.92],[-3.1,0.67,0.85],[-2.7,0.75,0.88],[-2.4,0.64,0.82],[-2.0,0.71,0.8],[-1.7,0.78,0.78],[-1.4,0.66,0.65],[2.8,0.78,0.72],[3.2,0.7,0.65],[3.6,0.76,0.72],[3.9,0.66,0.6],[4.3,0.73,0.7],[4.7,0.79,0.75],[4.9,0.68,0.6],
[-4.3,0.63,0.85],[-3.0,0.62,0.82],[-1.75,0.63,0.72],[3.6,0.64,0.62],[4.55,0.63,0.6],
[-4.9,0.55,0.8],[-4.6,0.6,0.85],[-4.3,0.52,0.78],[-3.9,0.58,0.8],[-3.6,0.505,0.75],[-3.2,0.62,0.82],[-2.9,0.55,0.78],[-2.5,0.6,0.75],[-2.2,0.52,0.72],[-1.8,0.57,0.68],[-1.4,0.61,0.6],[4.2,0.61,0.58],[4.75,0.57,0.52],
[-4.55,0.5,0.75],[-3.2,0.495,0.72],[-2.0,0.5,0.68],[-1.45,0.52,0.58],
[-4.8,0.45,0.75],[-4.4,0.41,0.72],[-4.1,0.48,0.78],[-3.7,0.43,0.72],[-3.4,0.4,0.68],[-3.0,0.47,0.72],[-2.6,0.42,0.65],[-2.3,0.49,0.7],[-1.9,0.44,0.62],[-1.5,0.41,0.55],[-1.25,0.47,0.55],
[-4.6,0.4,0.68],[-3.1,0.397,0.62],[-2.0,0.4,0.58],[-1.3,0.41,0.5],
[-4.9,0.35,0.65],[-4.6,0.32,0.6],[-4.2,0.38,0.68],[-3.9,0.34,0.62],[-3.5,0.37,0.65],[-3.2,0.32,0.58],[-2.8,0.36,0.6],[-2.5,0.33,0.55],[-2.1,0.38,0.57],[-1.8,0.34,0.52],[-1.4,0.37,0.5],[-1.2,0.33,0.45],
[-4.3,0.31,0.58],[-3.0,0.318,0.55],[-1.6,0.31,0.45],
[-4.8,0.28,0.55],[-4.5,0.26,0.52],[-4.1,0.3,0.57],[-3.8,0.27,0.52],[-3.4,0.31,0.55],[-3.1,0.26,0.5],[-2.7,0.29,0.5],[-2.4,0.25,0.45],[-2.0,0.3,0.47],[-1.7,0.27,0.42],[-1.3,0.3,0.42],
[-4.65,0.25,0.5],[-3.3,0.252,0.45],[-1.9,0.255,0.4],[-1.2,0.26,0.4],
[-4.9,0.21,0.48],[-4.5,0.24,0.5],[-4.2,0.22,0.45],[-3.8,0.2,0.42],[-3.5,0.24,0.42],[-3.1,0.21,0.4],[-2.7,0.23,0.4],[-2.3,0.2,0.37],[-2.0,0.24,0.38],[-1.6,0.22,0.37],[-1.3,0.2,0.4],
[-4.3,0.198,0.42],[-2.9,0.202,0.38],[-1.7,0.2,0.36],
[-4.8,0.17,0.38],[-4.4,0.19,0.4],[-4.1,0.16,0.36],[-3.7,0.18,0.38],[-3.3,0.195,0.38],[-3.0,0.165,0.35],[-2.6,0.185,0.36],[-2.2,0.16,0.34],[-1.9,0.18,0.35],[-1.5,0.19,0.37],
[-4.55,0.158,0.35],[-3.3,0.16,0.33],[-1.75,0.157,0.33],
[-4.9,0.14,0.33],[-4.6,0.155,0.35],[-4.2,0.13,0.32],[-3.8,0.15,0.33],[-3.5,0.135,0.3],[-3.1,0.155,0.32],[-2.7,0.128,0.3],[-2.4,0.145,0.31],[-2.0,0.135,0.3],[-1.6,0.15,0.33],
[-4.35,0.126,0.3],[-3.15,0.124,0.28],[-1.8,0.126,0.28],
[-4.8,0.11,0.28],[-4.5,0.12,0.3],[-4.1,0.105,0.27],[-3.8,0.118,0.28],[-3.4,0.108,0.27],[-3.0,0.122,0.28],[-2.7,0.103,0.26],[-2.3,0.115,0.27],[-1.9,0.108,0.26],[-1.5,0.12,0.28]
];

// ---- styles ----
const PURPLE = '#440154';
const BLUE = '#33638d';
const MARKER_SIZE = 6;
const FONT = 'Liberation Serif, DejaVu Serif, serif';

function pointTraces(purplePts, coloredPts, xa, ya) {
  return [
    {type:'scatter', mode:'markers', xaxis:xa, yaxis:ya,
     x: purplePts.map(p=>p[0]), y: purplePts.map(p=>p[1]),
     marker:{size:MARKER_SIZE, color:PURPLE, line:{width:0}}, hoverinfo:'skip'},
    {type:'scatter', mode:'markers', xaxis:xa, yaxis:ya,
     x: coloredPts.map(p=>p[0]), y: coloredPts.map(p=>p[1]),
     marker:{size:MARKER_SIZE, color: coloredPts.map(p=>p[2]), colorscale:'Viridis', cmin:0, cmax:1, showscale:false, line:{width:0}},
     hoverinfo:'skip'}
  ];
}
function lineTrace(x, y, color, w, xa, ya) {
  return {type:'scatter', mode:'lines', x:x, y:y, xaxis:xa, yaxis:ya,
          line:{color:color, width:w, shape:'spline', smoothing:0.6}, hoverinfo:'skip'};
}

const traces = [
  ...pointTraces(p1PurplePts, p1ColoredPts, 'x', 'y'),
  lineTrace(p1BlueUpperX, p1BlueUpperY, BLUE, 4.5, 'x', 'y'),
  lineTrace(p1BlueLowerX, p1BlueLowerY, BLUE, 4.5, 'x', 'y'),
  lineTrace(p1PurpleUpperX, p1PurpleUpperY, PURPLE, 4, 'x', 'y'),
  lineTrace(p1PurpleLowerX, p1PurpleLowerY, PURPLE, 4, 'x', 'y'),
  ...pointTraces(p2PurplePts, p2ColoredPts, 'x2', 'y2'),
  lineTrace(p2BlueUpperX, p2BlueUpperY, BLUE, 4.5, 'x2', 'y2'),
  lineTrace(p2BlueLowerX, p2BlueLowerY, BLUE, 4.5, 'x2', 'y2'),
  lineTrace(p2PurpleUpperX, p2PurpleUpperY, PURPLE, 4, 'x2', 'y2'),
  lineTrace(p2PurpleLowerX, p2PurpleLowerY, PURPLE, 4, 'x2', 'y2')
];

function xAxis(domain, anchor) {
  return {domain:domain, anchor:anchor, range:[-5,5], tickvals:xTickVals, ticktext:xTickText,
    ticks:'outside', ticklen:3.5, tickwidth:1, tickcolor:'#333',
    showline:true, mirror:true, linecolor:'#444', linewidth:1,
    showgrid:false, zeroline:false,
    tickfont:{family:FONT, size:16, color:'#333'},
    title:{text:'<i>\u03bd</i>', font:{family:FONT, size:16, color:'#333'}, standoff:6}};
}
function yAxis(domain, anchor) {
  return {domain:domain, anchor:anchor, type:'log', range:[-1,1], tickvals:yTickVals, ticktext:yTickText,
    ticks:'outside', ticklen:3.5, tickwidth:1, tickcolor:'#333',
    minor:{tickvals:yMinorVals, ticks:'outside', ticklen:2, tickwidth:0.8, tickcolor:'#333', showgrid:false},
    showline:true, mirror:true, linecolor:'#444', linewidth:1,
    showgrid:false, zeroline:false,
    tickfont:{family:FONT, size:16, color:'#333'},
    title:{text:'<i>\u03c1</i>', font:{family:FONT, size:17, color:'#333'}, standoff:8}};
}
function refLines(xr, yr) {
  return [
    {type:'line', xref:xr, yref:yr+' domain', x0:0, x1:0, y0:0, y1:1, line:{color:'#222', width:1.5}, layer:'above'},
    {type:'line', xref:xr+' domain', yref:yr, x0:0, x1:1, y0:1, y1:1, line:{color:'#222', width:1.5}, layer:'above'}
  ];
}

const layout = {
  width:830, height:332, margin:{l:0, r:0, t:0, b:0},
  paper_bgcolor:'#fff', plot_bgcolor:'#fff', showlegend:false, hovermode:false,
  xaxis: xAxis([0.1243, 0.4775], 'y'),
  yaxis: yAxis([0.1265, 0.8816], 'x'),
  xaxis2: xAxis([0.547, 0.9004], 'y2'),
  yaxis2: yAxis([0.1265, 0.8816], 'x2'),
  shapes: [...refLines('x','y'), ...refLines('x2','y2')]
};

Plotly.newPlot('chart', traces, layout, {staticPlot:true, displayModeBar:false});
</script>
</body></html>
